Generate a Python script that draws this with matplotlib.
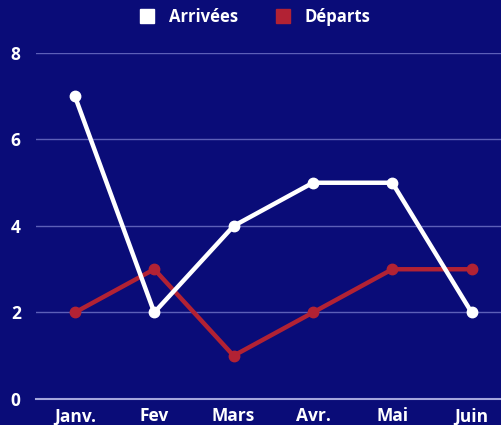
import numpy as np
import matplotlib.pyplot as plt
from matplotlib.lines import Line2D

months = ['Janv.', 'Fev', 'Mars', 'Avr.', 'Mai', 'Juin']
arrivees = [7, 2, 4, 5, 5, 2]
departs = [2, 3, 1, 2, 3, 3]

bg = '#0a0c78'
red = '#b22234'

plt.rcParams['font.family'] = ['Open Sans', 'DejaVu Sans']
plt.rcParams['font.weight'] = 'bold'

fig = plt.figure(figsize=(5.01, 4.25), dpi=100, facecolor=bg)
ax = fig.add_axes([0.0719, 0.0612, 0.9281, 0.8141], facecolor=bg)

x = np.arange(len(months))
ax.plot(x, arrivees, color='white', lw=3.2, marker='o', ms=7.5, zorder=4)
ax.plot(x, departs, color=red, lw=3.2, marker='o', ms=7.5, zorder=3)

ax.set_xlim(-0.49, 5.37)
ax.set_ylim(0, 8)
ax.set_yticks([0, 2, 4, 6, 8])
ax.set_xticks(x)
ax.set_xticklabels(months)
for yv in [2, 4, 6, 8]:
    ax.axhline(yv, color='#5c5fb8', lw=1, zorder=1)
ax.axhline(0, color='#a5a6dc', lw=1.5, zorder=1, clip_on=False)

for s in ax.spines.values():
    s.set_visible(False)
ax.tick_params(length=0, colors='white', labelsize=12.5)
ax.tick_params(axis='x', pad=6)
ax.tick_params(axis='y', pad=11)
for lab in ax.get_xticklabels() + ax.get_yticklabels():
    lab.set_fontweight('bold')

handles = [Line2D([], [], ls='', marker='s', ms=10, color='white'),
           Line2D([], [], ls='', marker='s', ms=10, color=red)]
leg = fig.legend(handles, ['Arrivées', 'Départs'], loc='center', bbox_to_anchor=(0.5, 0.96),
                 ncol=2, frameon=False, handletextpad=0.3, columnspacing=1.7,
                 prop={'weight': 'bold', 'size': 12})
for t in leg.get_texts():
    t.set_color('white')

fig.savefig('out.png', facecolor=bg)
